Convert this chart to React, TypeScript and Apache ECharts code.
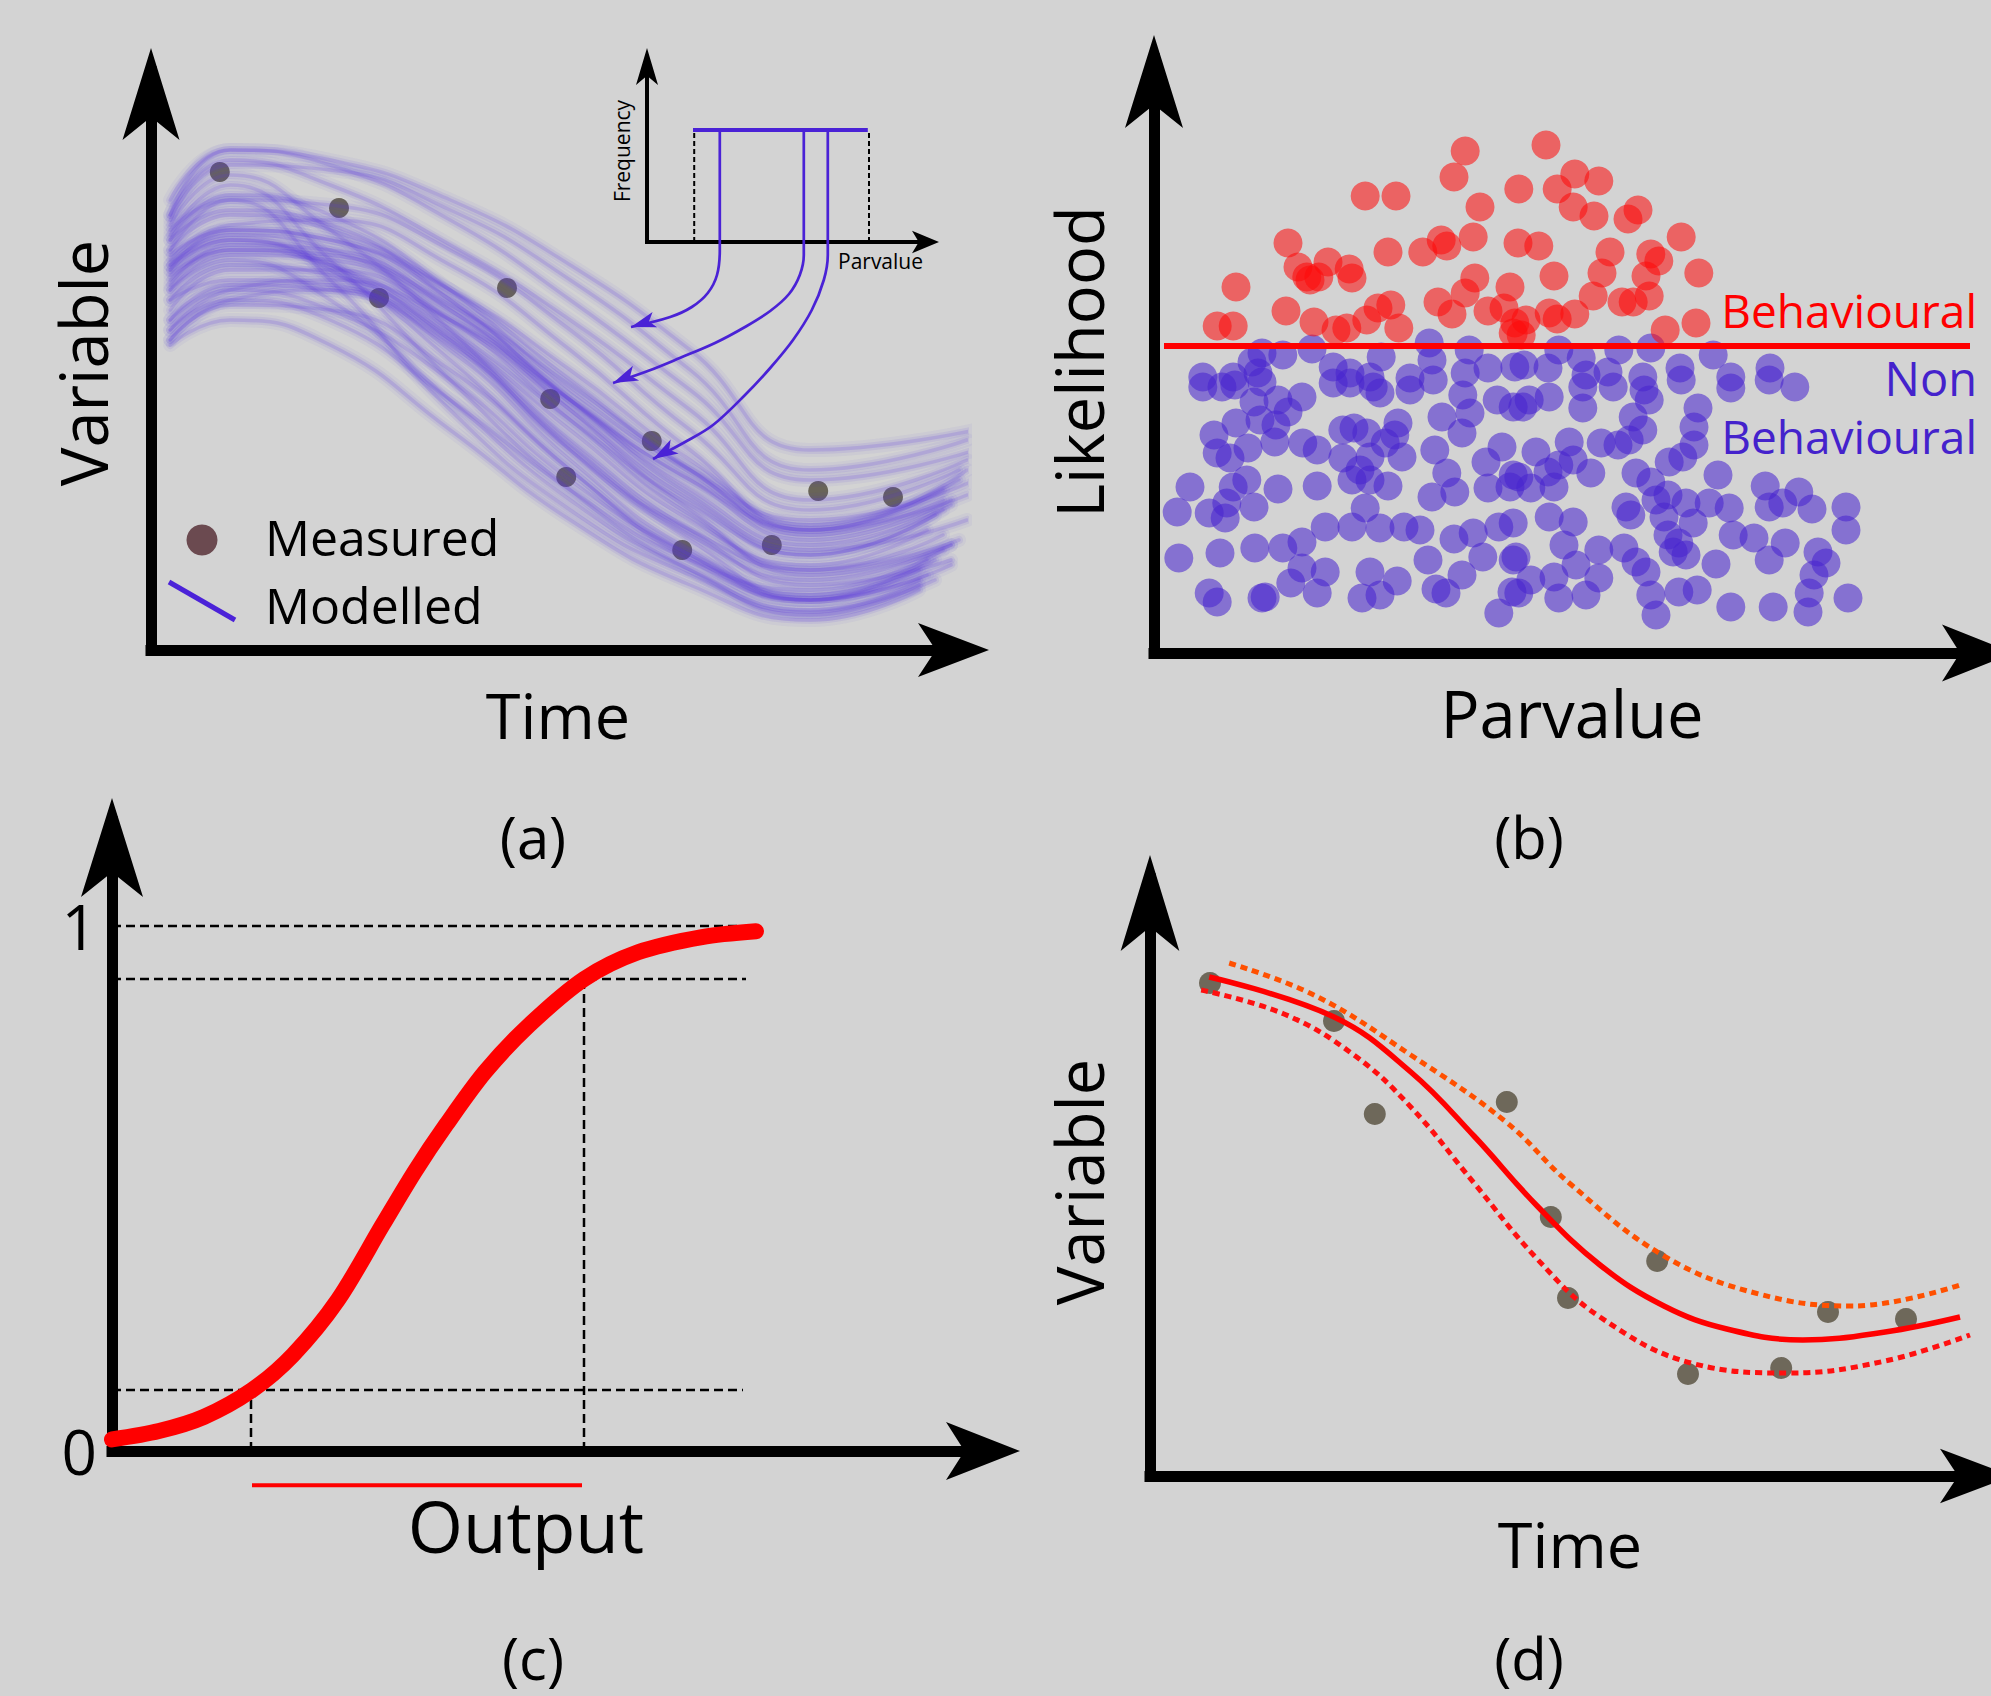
import React, { useEffect, useRef } from 'react';
import * as echarts from 'echarts';

const W = 1991;
const H = 1696;
const BG = '#d3d3d3';
const FONT = '"Open Sans", "Noto Sans", sans-serif';
const PURPLE = '#4a22d6';
const BLUE_TXT = '#4422cc';

// ---------- Panel (a) data (time units, variable units) ----------
const measuredA = [
  [8.6, 119.5], [23.5, 110.5], [28.5, 88], [44.5, 90.5], [49.9, 62.75], [62.6, 52.25],
  [51.9, 43.25], [66.4, 25], [77.6, 26.25], [83.4, 39.75], [92.75, 38.25],
];
const modelXs = [2.4, 9.9, 22.4, 37.4, 52.4, 67.4, 82.4];
const modelEndX = [101, 99, 100, 98, 102, 97, 100, 96, 99, 103, 102, 97, 96, 98, 101, 100, 99, 96, 102, 100, 103, 99, 98, 102, 97, 100, 100, 102, 96, 103, 101, 99];
const modelled = [
  [105, 112.5, 111.25, 100, 80, 55, 35, 45],
  [100, 108.75, 105, 90, 67.5, 45, 30, 40],
  [96.25, 103.75, 100, 85, 62.5, 40, 26.25, 36.25],
  [92.5, 100, 96.25, 80, 57.5, 36.25, 23.75, 33.75],
  [102.5, 110, 106.25, 87.5, 62.5, 38.75, 25, 32.5],
  [87.5, 96.25, 93.75, 78.75, 55, 32.5, 21.25, 30],
  [82.5, 91.25, 90, 76.25, 51.25, 28.75, 17.5, 26.25],
  [77.5, 86.25, 85, 70, 45, 22.5, 12.5, 20],
  [80, 87.5, 82.5, 62.5, 40, 22.5, 15, 25],
  [112.5, 125, 121.25, 107.5, 87.5, 65, 42.5, 50],
  [108.75, 122.5, 116.25, 101.25, 82.5, 60, 37.5, 47.5],
  [106.25, 118.75, 105, 80, 50, 27.5, 12.5, 22.5],
  [103.75, 116.25, 97.5, 67.5, 40, 20, 8.75, 16.25],
  [90, 97.5, 87.5, 62.5, 37.5, 20, 10, 17.5],
  [95, 102.5, 96.25, 77.5, 50, 30, 20, 27.5],
  [98.75, 105, 102.5, 87.5, 62.5, 42.5, 27.5, 37.5],
  [85, 95, 95, 82.5, 60, 37.5, 23.75, 35],
  [76.25, 82.5, 76.25, 55, 32.5, 16.25, 7.5, 15],
  [97.5, 106.25, 107.5, 96.25, 75, 50, 30, 38.75],
  [91.25, 101.25, 100, 85, 60, 35, 18.75, 26.25],
  [102.5, 113.75, 108.75, 90, 65, 45, 32.5, 42.5],
  [93.75, 100, 98.75, 86.25, 66.25, 45, 28.75, 37.5],
  [87.5, 92.5, 91.25, 75, 47.5, 25, 13.75, 22.5],
  [107.5, 121.25, 120, 110, 92.5, 70, 45, 52.5],
  [82.5, 90, 85, 67.5, 42.5, 23.75, 12.5, 18.75],
  [96.25, 102.5, 95, 72.5, 45, 23.75, 12.5, 21.25],
  [77.5, 87.5, 90, 77.5, 52.5, 30, 16.25, 22.5],
  [80, 90, 92.5, 82.5, 62.5, 42.5, 30, 45],
  [100, 112.5, 92.5, 60, 35, 18.75, 9.5, 17.5],
  [108.75, 125, 122.5, 112.5, 96.25, 75, 50, 55],
  [95, 105, 102.5, 90, 70, 47.5, 31.25, 42.5],
  [90, 98.75, 97.5, 82.5, 57.5, 33.75, 20, 28.75],
];
// inset (uniform prior) drawn in panel (a) units
const priorBar = [[67.75, 130], [89.6, 130]];
const priorBounds = [67.9, 89.75];
const priorBoundY = [102, 130];
const arrowPaths = [
  [[71.1, 130], [71.1, 100], [70.75, 93.75], [69.6, 89.25], [67.6, 85.75], [64.9, 83.25], [60, 80.75]],
  [[81.6, 130], [81.6, 98.75], [81.1, 93.75], [79.75, 89], [77.4, 84.75], [74.25, 80.75], [70.5, 76.75], [66.1, 73], [62.1, 69.75], [57.75, 66.75]],
  [[84.6, 130], [84.6, 98.75], [84.1, 92.5], [82.6, 85], [80.25, 77.5], [77.4, 70.5], [74.25, 63.75], [70.25, 56.25], [66.75, 52], [62.75, 47.75]],
];
const arrowRotations = [107, 113, 120];

// ---------- Panel (b) data (parvalue, likelihood) ----------
const behavioural = [
  [38.9, 125.5], [37.5, 119], [26.4, 114.25], [30.25, 114.25], [40.75, 111.5], [16.75, 102.5], [29.25, 100.25],
  [33.6, 100.25], [35.9, 103.25], [36.6, 101.75], [39.9, 104], [18, 96.5], [21.75, 97.75], [24.4, 96], [19.1, 94],
  [20.6, 94], [19.5, 93.25], [24.75, 93.75], [10.25, 91.5], [40.1, 93.75], [44.5, 91.5], [38.9, 90], [35.5, 87.75],
  [37.25, 84.75], [41.75, 85.5], [43.75, 86.25], [45.1, 82.5], [44.9, 80], [28, 86.25], [29.6, 87], [26.6, 83.25],
  [30.6, 81.25], [16.5, 85.5], [20, 82.75], [22.75, 80.75], [24.1, 81.25], [7.9, 81.75], [9.9, 81.75],
  [49, 127], [52.6, 119.75], [55.6, 118], [50.4, 116], [45.6, 116], [52.4, 111.5], [55, 109.25], [59.25, 108.5],
  [60.5, 110.75], [65.9, 104], [48.1, 101.75], [45.5, 102.5], [57, 100.25], [62.1, 99.75], [63.1, 98], [50, 94.25],
  [56, 95], [61.5, 94.25], [68.1, 95], [54.9, 89.25], [58.5, 87.75], [59.9, 87.75], [61.9, 89.25], [46.5, 83.25],
  [49.4, 85], [50.4, 83.5], [52.6, 84.75], [63.9, 80.75], [67.75, 82.5], [45.9, 79.5],
];
const nonBehavioural = [
  [13.5, 75], [16.1, 74.5], [19.75, 76], [12.25, 72.75], [22.4, 71.5], [24.5, 70], [28.4, 74], [34.4, 77.5],
  [34.75, 73.25], [39.4, 75.75], [41.75, 71.25], [38.9, 70], [45.1, 71.5], [6.1, 69], [9.9, 69], [13, 70], [32, 68.75],
  [27, 69], [6.1, 66.5], [8.5, 66.5], [10.1, 67], [13.5, 67.75], [12.5, 62.75], [15.5, 63.25], [18.5, 64],
  [16.75, 60.25], [10.25, 57.5], [13.25, 58.25], [15.25, 57], [7.5, 54.5], [15.1, 52.75], [11.75, 51.25], [7.9, 50],
  [9.5, 48.75], [18.6, 52.5], [20.4, 50.75], [23.6, 55.75], [25, 56.25], [26.6, 55], [30.5, 57.5], [30.1, 54.5],
  [28.9, 52.5], [31, 49], [23.6, 48.75], [27, 49], [25.75, 45.75], [24.75, 43.25], [27, 43.25], [29.25, 41.75],
  [26.4, 36.25], [22.4, 67.5], [24.5, 67.5], [27.4, 66.5], [28.25, 65], [32, 65.75], [34.9, 68.25], [36, 59],
  [38.6, 64.5], [39.5, 60], [38.5, 55], [42.9, 63.25], [44.9, 61.5], [35.1, 50.75], [36.6, 45], [37.6, 40.25],
  [34.75, 39], [41.5, 47.75], [43.5, 51.5], [41.75, 41.25], [44.5, 41.5], [44.9, 44.5], [4.5, 41.5], [2.9, 35.25],
  [6.9, 35], [8.9, 33.75], [9.1, 37.5], [11.6, 43.25], [9.9, 41.5], [12.5, 36.5], [15.5, 41], [20.4, 41.75],
  [21.4, 31.5], [24.75, 31.5], [28.25, 31.25], [31.25, 31.5], [33.25, 30.75], [37.5, 28.5], [39.9, 30], [43.1, 31.5],
  [44.9, 32.5], [3.1, 23.75], [8.25, 25], [12.6, 26.25], [16.1, 26.25], [18.5, 27.75], [18.5, 21.25], [21.4, 20.25],
  [17.1, 17.5], [20.4, 15], [27, 20.25], [30.4, 18], [28.25, 14.5], [26, 13.75], [34.25, 23.25], [38.5, 19.5],
  [41.1, 24], [44.9, 23.25], [35.25, 16], [36.5, 15], [44.75, 15.25], [43.1, 10], [6.9, 15], [7.9, 12.75],
  [13.9, 14], [13.5, 13.75],
  [46.1, 61.5], [49.4, 64], [46.9, 63.25], [53.6, 66.5], [57.4, 66.5], [61.9, 63.25], [61.25, 65.75], [53.6, 61.25],
  [59.9, 59], [61.1, 55.75], [68, 61.25], [67.5, 56.5], [67.5, 52], [66.1, 49], [64.4, 47.75], [72.1, 66.25],
  [76.9, 68.25], [80.1, 66.5], [65.9, 68.25], [51.9, 52.75], [55.9, 52.5], [58, 52], [59.4, 53.25], [47.75, 50.25],
  [50.6, 47], [52.4, 48.25], [54.6, 45], [49.25, 45.25], [50, 41.5], [45.6, 44], [47.1, 41.25], [60.25, 45],
  [62.1, 42.75], [70.5, 44.5], [76.4, 41.75], [80.6, 40.25], [76.9, 36.5], [78.6, 37.5], [82.25, 36], [86.5, 36.5],
  [86.5, 30.75], [59, 36.5], [59.6, 34.5], [62.75, 38.25], [64.25, 39.5], [66.5, 37.5], [63.75, 34], [67.4, 32.5],
  [69.4, 37.5], [71.9, 36.25], [72.4, 29.5], [75, 28.75], [78.9, 27.5], [76.9, 23.25], [83, 25.25], [84, 22.5],
  [82.5, 19.5], [81.9, 15], [81.75, 10.25], [86.75, 13.75], [72.1, 11.5], [77.4, 11.5], [70.25, 22.25], [67.9, 15.75],
  [65.6, 15.25], [62.75, 9.5], [62.1, 14.5], [61.5, 20.25], [60.25, 22.75], [58.75, 26.25], [55.6, 25.75],
  [52.4, 32.75], [51.25, 27], [49.4, 34], [52.75, 22], [50, 19], [55.6, 18.75], [54, 14.5], [50.6, 13.75],
  [47.1, 18.25], [45.6, 15], [45.25, 24], [64.9, 25.25], [66.5, 24.5], [64.25, 29.5], [65.6, 27.5],
  [50.6, 75.75], [53.4, 73.75], [58.1, 75.75], [62.1, 76.25], [69.9, 74.5], [65.75, 71.25], [77, 71.25], [72.1, 69],
  [46.25, 72], [49.25, 71.25], [56.75, 70.25], [61.1, 69], [54, 69.5],
];
const threshold = [[1.25, 76.75], [102, 76.75]];

// ---------- Panel (c) data (output, cumulative) ----------
const cdfCurve = [
  [0, 0.022], [4.7, 0.038], [9.2, 0.065], [14, 0.116], [18.1, 0.183], [22.6, 0.288], [27.1, 0.432], [30.3, 0.533],
  [33.4, 0.621], [37.3, 0.722], [41.7, 0.811], [47.2, 0.899], [52.6, 0.95], [59, 0.979], [64.4, 0.99],
];
const cdfGuidesH = [
  [[0, 1], [63, 1]],
  [[0, 0.899], [63.4, 0.899]],
  [[0, 0.116], [63.1, 0.116]],
];
const cdfGuidesV = [
  [[13.9, 0], [13.9, 0.116]],
  [[47.2, 0], [47.2, 0.899]],
];
const outputRange = [[14, -0.065], [47, -0.065]];
const cdfTicks = [0, 1];

// ---------- Panel (d) data (time, variable) ----------
const measuredD = [
  [7.5, 123.25], [23, 113.75], [28.1, 90.5], [44.6, 93.5], [50.1, 64.75], [63.4, 53.75], [52.25, 44.5],
  [67.25, 25.5], [78.9, 27], [84.75, 41], [94.5, 39.25],
];
const bestFit = [
  [7.4, 124.75], [23, 114.75], [32.6, 101], [40.5, 85], [48.4, 67.5], [56.25, 52.75], [64.25, 42.5],
  [72.1, 36.75], [81.6, 34], [91.9, 36], [101.25, 39.75],
];
const upperBound = [
  [9.9, 128.25], [20.75, 120], [32.6, 105.25], [44.5, 88.5], [52.4, 73.25], [64.25, 55], [76.1, 45.5],
  [87.9, 42.5], [101.25, 47.75],
];
const lowerBound = [
  [6.4, 121.5], [16.75, 115.5], [25.5, 105.25], [32.6, 92.25], [40.5, 73.25], [48.4, 54.25], [56.25, 39.75],
  [68.1, 28], [80, 25.75], [91.9, 28.75], [102.5, 35.25],
];

// ---------- layout ----------
type Panel = { ox: number; oy: number; tipX: number; tipY: number; sx: number; sy: number; lw: number; ax: number[]; ay: number[]; off: number };
const panels: Panel[] = [
  { ox: 151, oy: 650, tipX: 989, tipY: 48, sx: 8, sy: 4, lw: 11, ax: [40.5, 71], ay: [42.75, 92], off: 24 },
  { ox: 1154, oy: 653, tipX: 2014, tipY: 35, sx: 8, sy: 4, lw: 11, ax: [42.75, 72], ay: [43.5, 93], off: 24 },
  { ox: 112, oy: 1451, tipX: 1020, tipY: 798, sx: 10, sy: 525, lw: 11, ax: [43.5, 74], ay: [46.5, 99], off: 24 },
  { ox: 1150, oy: 1476, tipX: 2012, tipY: 855, sx: 8, sy: 4, lw: 11, ax: [41, 72], ay: [44, 96], off: 24 },
  { ox: 647, oy: 242, tipX: 939, tipY: 48, sx: 1, sy: 1, lw: 4, ax: [17, 27], ay: [16.5, 37], off: 10 },
];

function buildOption() {
  const grids: any[] = [];
  const xAxes: any[] = [];
  const yAxes: any[] = [];
  panels.forEach((p, i) => {
    const top = p.tipY + p.off;
    const right = p.tipX - p.off;
    grids.push({ left: p.ox, top, width: right - p.ox, height: p.oy - top, containLabel: false });
    const axisLine = (size: number[]) => ({
      show: true,
      onZero: false,
      symbol: ['none', 'arrow'],
      symbolSize: size,
      symbolOffset: [0, p.off],
      lineStyle: { color: '#000', width: p.lw, cap: 'square' },
    });
    xAxes.push({
      type: 'value', gridIndex: i, min: 0, max: (right - p.ox) / p.sx,
      axisLine: axisLine(p.ax), axisTick: { show: false }, axisLabel: { show: false }, splitLine: { show: false },
    });
    yAxes.push({
      type: 'value', gridIndex: i, min: 0, max: (p.oy - top) / p.sy,
      axisLine: axisLine(p.ay), axisTick: { show: false },
      axisLabel: i === 2
        ? { show: true, customValues: cdfTicks, fontSize: 62, fontFamily: FONT, color: '#000', margin: 15 }
        : { show: false },
      splitLine: { show: false },
    });
  });

  const line = (gi: number, data: any[], lineStyle: any, extra: any = {}) => ({
    type: 'line', xAxisIndex: gi, yAxisIndex: gi, data, symbol: 'none', clip: false, silent: true,
    animation: false, lineStyle, ...extra,
  });

  const series: any[] = [];
  // (a) modelled ensemble, each strand drawn as a soft (blurred-looking) stack
  const softLayers = [
    { width: 14, a: 0.05 },
    { width: 8, a: 0.09 },
    { width: 3.5, a: 0.16 },
  ];
  softLayers.forEach((layer) => {
    modelled.forEach((ys, k) => {
      const pts = ys.map((y, j) => [j < modelXs.length ? modelXs[j] : modelEndX[k], y]);
      series.push(line(0, pts, {
        color: `rgba(84,52,222,${layer.a})`, width: layer.width, cap: 'round',
      }, { smooth: 0.5 }));
    });
  });
  // (a) inset prior + arrows
  series.push(line(0, priorBar, { color: PURPLE, width: 4 }));
  priorBounds.forEach((x) => {
    series.push(line(0, priorBoundY.map((y) => [x, y]), { color: '#000', width: 2, type: [5, 3] }));
  });
  arrowPaths.forEach((path, k) => {
    const data = path.map((pt, j) => j === path.length - 1
      ? { value: pt, symbol: 'arrow', symbolSize: [12, 25], symbolRotate: arrowRotations[k], itemStyle: { color: PURPLE } }
      : { value: pt, symbol: 'none' });
    series.push(line(0, data, { color: PURPLE, width: 2.7 }, { smooth: 0.35, showSymbol: true }));
  });
  series.push({
    type: 'scatter', xAxisIndex: 0, yAxisIndex: 0, data: measuredA, symbolSize: 20, clip: false, silent: true,
    itemStyle: { color: '#4f4839' },
  });

  // (b)
  series.push({
    type: 'scatter', xAxisIndex: 1, yAxisIndex: 1, data: nonBehavioural, symbolSize: 29, clip: false, silent: true,
    itemStyle: { color: 'rgba(71,36,207,0.7)' },
  });
  series.push({
    type: 'scatter', xAxisIndex: 1, yAxisIndex: 1, data: behavioural, symbolSize: 29, clip: false, silent: true,
    itemStyle: { color: 'rgba(253,10,10,0.7)' },
  });
  series.push(line(1, threshold, { color: '#ff0000', width: 6 }));

  // (c)
  cdfGuidesH.concat(cdfGuidesV).forEach((g) => {
    series.push(line(2, g, { color: '#000', width: 2.5, type: [9, 5] }));
  });
  series.push(line(2, cdfCurve, { color: '#ff0000', width: 16, cap: 'round', join: 'round' }, { smooth: 0.3 }));
  series.push(line(2, outputRange, { color: '#ff0000', width: 4 }));

  // (d)
  series.push(line(3, upperBound, { color: '#ff5000', width: 5, type: [7, 5] }, { smooth: 0.4 }));
  series.push(line(3, lowerBound, { color: '#ff1010', width: 5, type: [7, 5] }, { smooth: 0.4 }));
  series.push(line(3, bestFit, { color: '#ff0000', width: 5.5 }, { smooth: 0.4 }));
  series.push({
    type: 'scatter', xAxisIndex: 3, yAxisIndex: 3, data: measuredD, symbolSize: 22, clip: false, silent: true,
    itemStyle: { color: '#554d3c' },
  });

  const txt = (text: string, x: number, y: number, size: number, opts: any = {}) => ({
    type: 'text', x, y, rotation: opts.rotation || 0, silent: true, z: 100,
    style: {
      text, fontSize: size, fontFamily: FONT, fill: opts.color || '#000', lineHeight: size,
      align: opts.align || 'center', textAlign: opts.align || 'center',
      verticalAlign: 'middle', textVerticalAlign: 'middle',
    },
  });
  const rot = Math.PI / 2;
  const graphic: any[] = [
    txt('Variable', 83, 363, 65, { rotation: rot }),
    txt('Time', 558, 714, 63),
    { type: 'circle', shape: { cx: 202, cy: 540, r: 15.5 }, style: { fill: '#6b4a50' }, silent: true },
    { type: 'line', shape: { x1: 169, y1: 582, x2: 235, y2: 620 }, style: { stroke: '#4b22d8', lineWidth: 5 }, silent: true },
    txt('Measured', 265, 537, 50, { align: 'left' }),
    txt('Modelled', 265, 605, 50, { align: 'left' }),
    txt('Frequency', 622, 151, 21, { rotation: rot }),
    txt('Parvalue', 838, 261, 21, { align: 'left' }),
    txt('(a)', 533, 836, 58),
    txt('Likelihood', 1079, 362, 65, { rotation: rot }),
    txt('Parvalue', 1572, 713, 65),
    txt('Behavioural', 1977, 310, 46, { align: 'right', color: '#ff0000' }),
    txt('Non', 1977, 378, 47, { align: 'right', color: BLUE_TXT }),
    txt('Behavioural', 1977, 436, 46, { align: 'right', color: BLUE_TXT }),
    txt('(b)', 1529, 836, 58),
    txt('Output', 526, 1525, 71),
    txt('(c)', 533, 1657, 58),
    txt('Variable', 1079, 1182, 65, { rotation: rot }),
    txt('Time', 1570, 1543, 63),
    txt('(d)', 1529, 1657, 58),
  ];

  return {
    animation: false,
    backgroundColor: BG,
    grid: grids,
    xAxis: xAxes,
    yAxis: yAxes,
    series,
    graphic,
  };
}

export default function App() {
  const ref = useRef<HTMLDivElement>(null);
  useEffect(() => {
    document.body.style.margin = '0';
    document.body.style.background = BG;
    const chart = echarts.init(ref.current as HTMLDivElement, null, { renderer: 'svg', width: W, height: H });
    chart.setOption(buildOption() as any);
    return () => chart.dispose();
  }, []);
  return <div ref={ref} style={{ width: W, height: H, background: BG }} />;
}
